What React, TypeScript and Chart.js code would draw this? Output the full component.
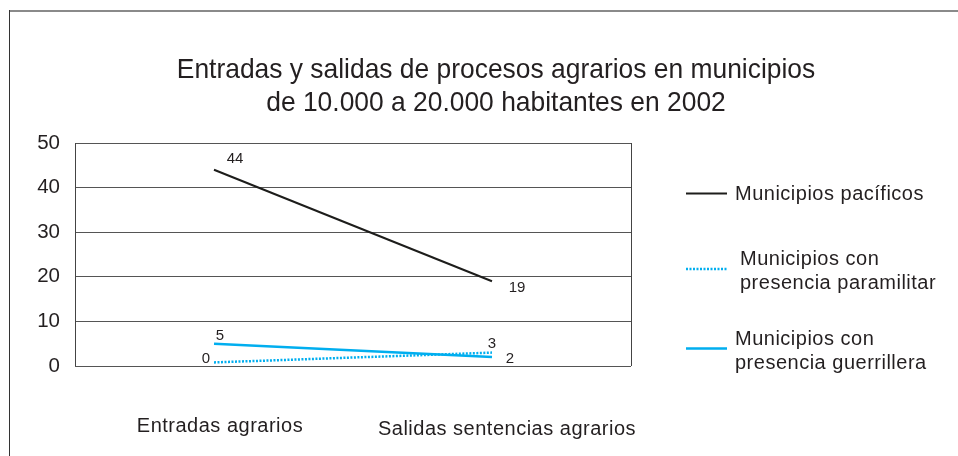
import React, { useEffect, useRef } from "react";
import { Chart, registerables } from "chart.js";

Chart.register(...registerables);

// ---- data ----
const categories = ["Entradas agrarios", "Salidas sentencias agrarios"];
const titleLines = [
  "Entradas y salidas de procesos agrarios en municipios",
  "de 10.000 a 20.000 habitantes en 2002",
];
const seriesNames = [
  ["Municipios pacíficos"],
  ["Municipios con", "presencia paramilitar"],
  ["Municipios con", "presencia guerrillera"],
];
const pacificos = [44, 19];
const paramilitar = [0.8, 3];
const paramilitarLabels = ["0", "3"];
const guerrillera = [5, 2];
const pacificosLabels = pacificos.map(String);
const guerrilleraLabels = guerrillera.map(String);
const yTicks = [0, 10, 20, 30, 40, 50];

// ---- styles ----
const FONT = '"Liberation Sans", Arial, Helvetica, sans-serif';
const TEXT = "#231f20";
const BLACK = "#1d1d1b";
const CYAN = "#00aeef";

const labelOffsets = [
  [[21, -7], [25, 11]],
  [[-8, 1], [0, -5]],
  [[6, -4], [18, 6]],
];

const legendSpec = [
  { sampleY: 193.5, textX: 735, baselines: [200] },
  { sampleY: 269, textX: 740, baselines: [265, 288.5] },
  { sampleY: 348.5, textX: 735, baselines: [345, 368.5] },
];

const decorPlugin = {
  id: "decor",
  afterDraw(chart: any) {
    const ctx: CanvasRenderingContext2D = chart.ctx;
    const area = chart.chartArea;
    const xScale = chart.scales.x;

    ctx.save();
    // outer frame
    ctx.strokeStyle = "#8a8a8a";
    ctx.lineWidth = 2;
    ctx.beginPath();
    ctx.moveTo(9, 11);
    ctx.lineTo(958, 11);
    ctx.stroke();
    ctx.strokeStyle = "#333";
    ctx.lineWidth = 1;
    ctx.beginPath();
    ctx.moveTo(9.5, 10);
    ctx.lineTo(9.5, 456);
    ctx.stroke();

    // plot frame (left / right)
    ctx.strokeStyle = "#444";
    ctx.lineWidth = 1;
    ctx.beginPath();
    ctx.moveTo(Math.round(area.left) + 0.5, area.top);
    ctx.lineTo(Math.round(area.left) + 0.5, area.bottom);
    ctx.moveTo(Math.round(area.right) + 0.5, area.top);
    ctx.lineTo(Math.round(area.right) + 0.5, area.bottom);
    ctx.stroke();

    // title (slightly condensed)
    ctx.fillStyle = TEXT;
    ctx.textAlign = "center";
    ctx.textBaseline = "alphabetic";
    ctx.font = `28px ${FONT}`;
    const titleBase = [78, 111];
    titleLines.forEach((line, i) => {
      ctx.save();
      ctx.translate(496, titleBase[i]);
      ctx.scale(0.943, 1);
      ctx.fillText(line, 0, 0);
      ctx.restore();
    });

    // category labels
    (ctx as any).letterSpacing = "0.5px";
    ctx.font = `20px ${FONT}`;
    const catDx = [6, 15];
    const catBase = [432, 435];
    categories.forEach((c, i) => {
      const px = xScale.getPixelForValue(i);
      ctx.fillText(c, px + catDx[i], catBase[i]);
    });

    // legend
    ctx.textAlign = "left";
    chart.data.datasets.forEach((ds: any, i: number) => {
      const spec = legendSpec[i];
      ctx.save();
      ctx.strokeStyle = ds.borderColor;
      ctx.lineWidth = ds.borderWidth;
      ctx.setLineDash(ds.borderDash || []);
      ctx.beginPath();
      ctx.moveTo(686, spec.sampleY);
      ctx.lineTo(727, spec.sampleY);
      ctx.stroke();
      ctx.restore();
      seriesNames[i].forEach((t, j) => {
        ctx.fillText(t, spec.textX, spec.baselines[j]);
      });
    });

    // data labels
    (ctx as any).letterSpacing = "0px";
    ctx.font = `15px ${FONT}`;
    ctx.textAlign = "center";
    chart.data.datasets.forEach((ds: any, i: number) => {
      const meta = chart.getDatasetMeta(i);
      meta.data.forEach((pt: any, j: number) => {
        const [dx, dy] = labelOffsets[i][j];
        ctx.fillText(ds.valueLabels[j], pt.x + dx, pt.y + dy);
      });
    });
    ctx.restore();
  },
};

export default function App() {
  const canvasRef = useRef<HTMLCanvasElement | null>(null);

  useEffect(() => {
    if (!canvasRef.current) return;
    const chart = new Chart(canvasRef.current, {
      type: "line",
      data: {
        labels: categories,
        datasets: [
          {
            label: seriesNames[0].join(" "),
            data: pacificos,
            borderColor: BLACK,
            borderWidth: 2,
            pointRadius: 0,
            tension: 0,
            fill: false,
            valueLabels: pacificosLabels,
          } as any,
          {
            label: seriesNames[1].join(" "),
            data: paramilitar,
            borderColor: CYAN,
            borderWidth: 2.5,
            borderDash: [2, 1.5],
            pointRadius: 0,
            tension: 0,
            fill: false,
            valueLabels: paramilitarLabels,
          } as any,
          {
            label: seriesNames[2].join(" "),
            data: guerrillera,
            borderColor: CYAN,
            borderWidth: 2.5,
            pointRadius: 0,
            tension: 0,
            fill: false,
            valueLabels: guerrilleraLabels,
          } as any,
        ],
      },
      options: {
        animation: false,
        responsive: false,
        maintainAspectRatio: false,
        devicePixelRatio: 1,
        layout: { padding: { left: 0, top: 143, right: 327, bottom: 90 } },
        plugins: {
          legend: { display: false },
          title: { display: false },
          tooltip: { enabled: false },
        },
        scales: {
          x: {
            type: "category",
            offset: true,
            display: false,
          },
          y: {
            min: yTicks[0],
            max: yTicks[yTicks.length - 1],
            afterFit: (scale: any) => {
              scale.width = 75;
            },
            ticks: {
              stepSize: yTicks[1] - yTicks[0],
              font: { family: FONT, size: 20.5 },
              color: TEXT,
              padding: 15,
            },
            grid: { color: "#555", lineWidth: 1, drawTicks: false },
            border: { display: false },
          },
        },
      },
      plugins: [decorPlugin],
    });
    return () => chart.destroy();
  }, []);

  return (
    <div style={{ position: "absolute", left: 0, top: 0, width: 958, height: 456, background: "#fff" }}>
      <canvas ref={canvasRef} width={958} height={456} style={{ display: "block" }} />
    </div>
  );
}
